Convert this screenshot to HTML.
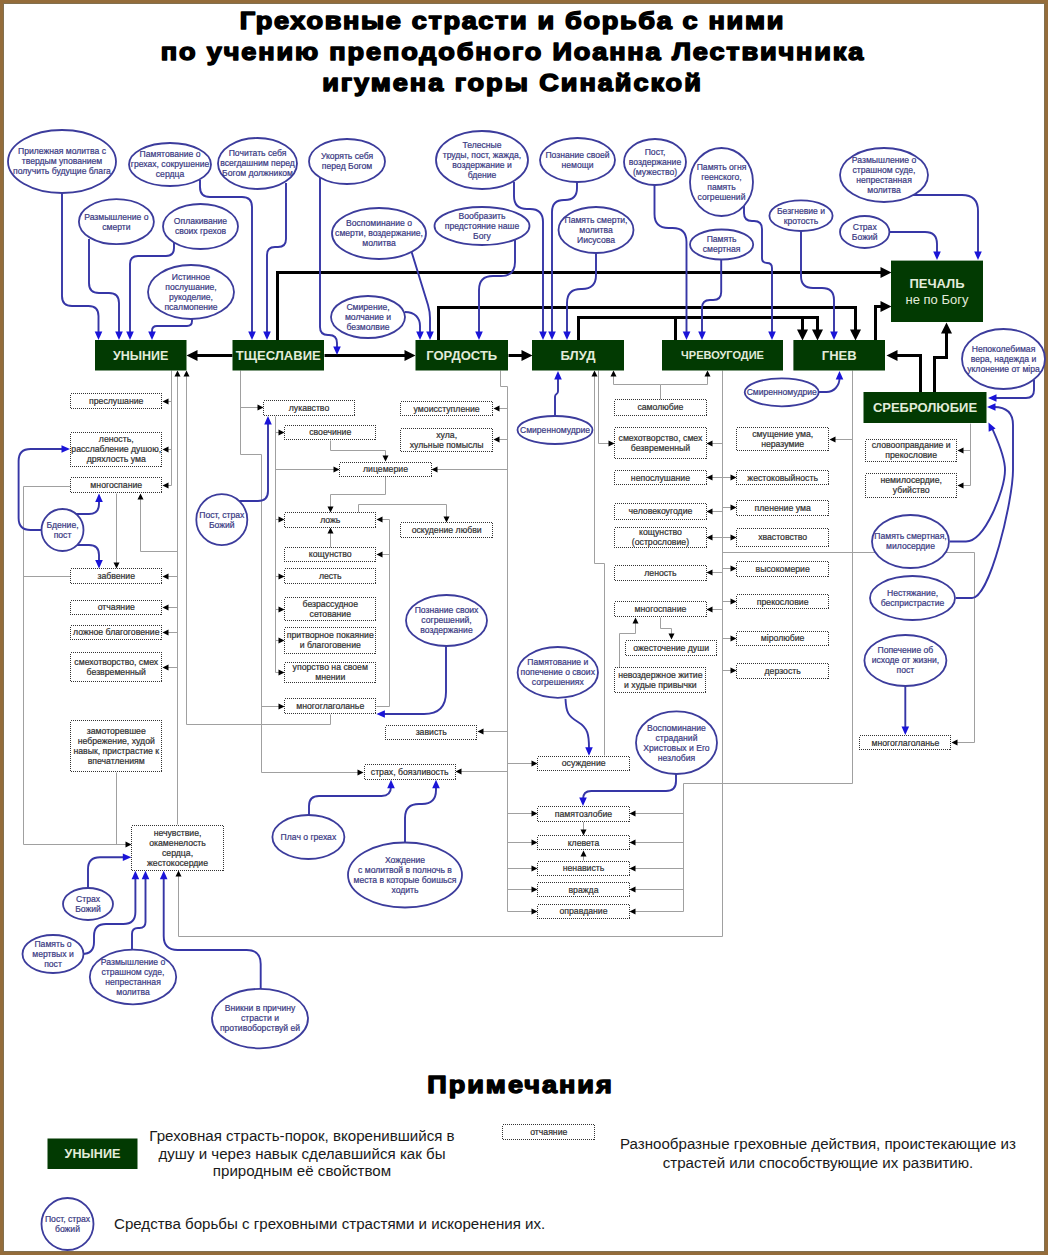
<!DOCTYPE html>
<html><head><meta charset="utf-8"><title>Греховные страсти</title>
<style>html,body{margin:0;padding:0;background:#fff;}svg{display:block;font-family:"Liberation Sans",sans-serif;}</style>
</head><body>
<svg width="1048" height="1255" viewBox="0 0 1048 1255">
<rect x="0" y="0" width="1048" height="1255" fill="#946c3a"/>
<rect x="4" y="4" width="1040" height="1247" fill="#fff"/>
<rect x="3.5" y="3.5" width="1041" height="1248" fill="none" stroke="#82704f" stroke-width="1"/>
<text transform="translate(511.5,0) scale(1.13,1)" x="0" y="28.8" text-anchor="middle" font-size="24" font-weight="bold" textLength="481.06" lengthAdjust="spacing" fill="#000" stroke="#000" stroke-width="1.5" stroke-linejoin="round">Греховные страсти и борьба с ними</text>
<text transform="translate(512.0,0) scale(1.13,1)" x="0" y="59.9" text-anchor="middle" font-size="24" font-weight="bold" textLength="621.77" lengthAdjust="spacing" fill="#000" stroke="#000" stroke-width="1.5" stroke-linejoin="round">по учению преподобного Иоанна Лествичника</text>
<text transform="translate(511.5,0) scale(1.13,1)" x="0" y="90.7" text-anchor="middle" font-size="24" font-weight="bold" textLength="335.04" lengthAdjust="spacing" fill="#000" stroke="#000" stroke-width="1.5" stroke-linejoin="round">игумена горы Синайской</text>
<path d="M171.5,370.5 L171.5,485.5" fill="none" stroke="#a0a0a0" stroke-width="1"/>
<path d="M171.5,401.5 L167.3,401.5" fill="none" stroke="#a0a0a0" stroke-width="1"/><path d="M162.50,401.50 L168.50,398.50 L168.50,404.50 Z" fill="#000"/>
<path d="M171.5,449.5 L167.3,449.5" fill="none" stroke="#a0a0a0" stroke-width="1"/><path d="M162.50,449.50 L168.50,446.50 L168.50,452.50 Z" fill="#000"/>
<path d="M171.5,485.5 L167.3,485.5" fill="none" stroke="#a0a0a0" stroke-width="1"/><path d="M162.50,485.50 L168.50,482.50 L168.50,488.50 Z" fill="#000"/>
<path d="M177.5,824.5 L177.5,375.3" fill="none" stroke="#a0a0a0" stroke-width="1"/><path d="M177.50,370.50 L180.50,376.50 L174.50,376.50 Z" fill="#000"/>
<path d="M177.5,576.5 L167.3,576.5" fill="none" stroke="#a0a0a0" stroke-width="1"/><path d="M162.50,576.50 L168.50,573.50 L168.50,579.50 Z" fill="#000"/>
<path d="M177.5,607.5 L167.3,607.5" fill="none" stroke="#a0a0a0" stroke-width="1"/><path d="M162.50,607.50 L168.50,604.50 L168.50,610.50 Z" fill="#000"/>
<path d="M177.5,632.5 L167.3,632.5" fill="none" stroke="#a0a0a0" stroke-width="1"/><path d="M162.50,632.50 L168.50,629.50 L168.50,635.50 Z" fill="#000"/>
<path d="M177.5,667.5 L167.3,667.5" fill="none" stroke="#a0a0a0" stroke-width="1"/><path d="M162.50,667.50 L168.50,664.50 L168.50,670.50 Z" fill="#000"/>
<path d="M177.5,551.5 L140.5,551.5 L140.5,498.3" fill="none" stroke="#a0a0a0" stroke-width="1"/><path d="M140.50,493.50 L143.50,499.50 L137.50,499.50 Z" fill="#000"/>
<path d="M330.5,714.5 L330.5,724.5 L186.5,724.5 L186.5,375.3" fill="none" stroke="#a0a0a0" stroke-width="1"/><path d="M186.50,370.50 L189.50,376.50 L183.50,376.50 Z" fill="#000"/>
<path d="M70.5,486.5 L23.5,486.5 L23.5,844.5 L126.7,844.5" fill="none" stroke="#a0a0a0" stroke-width="1"/><path d="M131.50,844.50 L125.50,847.50 L125.50,841.50 Z" fill="#000"/>
<path d="M23.5,576.5 L70.5,576.5" fill="none" stroke="#a0a0a0" stroke-width="1"/>
<path d="M116.5,772.5 L116.5,844.5" fill="none" stroke="#a0a0a0" stroke-width="1"/>
<path d="M116.5,493.5 L116.5,563.7" fill="none" stroke="#a0a0a0" stroke-width="1"/><path d="M116.50,568.50 L113.50,562.50 L119.50,562.50 Z" fill="#000"/>
<path d="M240.5,370.5 L240.5,454.5 L261.5,454.5 L261.5,772.5 L358.7,772.5" fill="none" stroke="#a0a0a0" stroke-width="1"/><path d="M363.50,772.50 L357.50,775.50 L357.50,769.50 Z" fill="#000"/>
<path d="M240.5,407.5 L258.7,407.5" fill="none" stroke="#a0a0a0" stroke-width="1"/><path d="M263.50,407.50 L257.50,410.50 L257.50,404.50 Z" fill="#000"/>
<path d="M261.5,706.5 L279.7,706.5" fill="none" stroke="#a0a0a0" stroke-width="1"/><path d="M284.50,706.50 L278.50,709.50 L278.50,703.50 Z" fill="#000"/>
<path d="M275.5,416.5 L275.5,672.5" fill="none" stroke="#a0a0a0" stroke-width="1"/>
<path d="M275.5,432.5 L279.7,432.5" fill="none" stroke="#a0a0a0" stroke-width="1"/><path d="M284.50,432.50 L278.50,435.50 L278.50,429.50 Z" fill="#000"/>
<path d="M275.5,519.5 L279.7,519.5" fill="none" stroke="#a0a0a0" stroke-width="1"/><path d="M284.50,519.50 L278.50,522.50 L278.50,516.50 Z" fill="#000"/>
<path d="M275.5,576.5 L279.7,576.5" fill="none" stroke="#a0a0a0" stroke-width="1"/><path d="M284.50,576.50 L278.50,579.50 L278.50,573.50 Z" fill="#000"/>
<path d="M275.5,609.5 L279.7,609.5" fill="none" stroke="#a0a0a0" stroke-width="1"/><path d="M284.50,609.50 L278.50,612.50 L278.50,606.50 Z" fill="#000"/>
<path d="M275.5,640.5 L279.7,640.5" fill="none" stroke="#a0a0a0" stroke-width="1"/><path d="M284.50,640.50 L278.50,643.50 L278.50,637.50 Z" fill="#000"/>
<path d="M275.5,672.5 L279.7,672.5" fill="none" stroke="#a0a0a0" stroke-width="1"/><path d="M284.50,672.50 L278.50,675.50 L278.50,669.50 Z" fill="#000"/>
<path d="M275.5,469.5 L334.7,469.5" fill="none" stroke="#a0a0a0" stroke-width="1"/><path d="M339.50,469.50 L333.50,472.50 L333.50,466.50 Z" fill="#000"/>
<path d="M330.5,440.5 L330.5,450.5 L385.5,450.5 L385.5,456.7" fill="none" stroke="#a0a0a0" stroke-width="1"/><path d="M385.50,461.50 L382.50,455.50 L388.50,455.50 Z" fill="#000"/>
<path d="M385.5,476.5 L385.5,494.5 L330.5,494.5 L330.5,507.7" fill="none" stroke="#a0a0a0" stroke-width="1"/><path d="M330.50,512.50 L327.50,506.50 L333.50,506.50 Z" fill="#000"/>
<path d="M330.5,547.5 L330.5,532.3" fill="none" stroke="#a0a0a0" stroke-width="1"/><path d="M330.50,527.50 L333.50,533.50 L327.50,533.50 Z" fill="#000"/>
<path d="M376.5,706.5 L389.5,706.5 L389.5,519.5" fill="none" stroke="#a0a0a0" stroke-width="1"/>
<path d="M389.5,519.5 L381.3,519.5" fill="none" stroke="#a0a0a0" stroke-width="1"/><path d="M376.50,519.50 L382.50,516.50 L382.50,522.50 Z" fill="#000"/>
<path d="M389.5,554.5 L381.3,554.5" fill="none" stroke="#a0a0a0" stroke-width="1"/><path d="M376.50,554.50 L382.50,551.50 L382.50,557.50 Z" fill="#000"/>
<path d="M358.5,512.5 L358.5,504.5 L446.5,504.5 L446.5,517.7" fill="none" stroke="#a0a0a0" stroke-width="1"/><path d="M446.50,522.50 L443.50,516.50 L449.50,516.50 Z" fill="#000"/>
<path d="M500.5,370.5 L500.5,386.5 L507.5,386.5 L507.5,911.5" fill="none" stroke="#a0a0a0" stroke-width="1"/>
<path d="M507.5,408.5 L498.3,408.5" fill="none" stroke="#a0a0a0" stroke-width="1"/><path d="M493.50,408.50 L499.50,405.50 L499.50,411.50 Z" fill="#000"/>
<path d="M507.5,439.5 L498.3,439.5" fill="none" stroke="#a0a0a0" stroke-width="1"/><path d="M493.50,439.50 L499.50,436.50 L499.50,442.50 Z" fill="#000"/>
<path d="M507.5,469.5 L436.3,469.5" fill="none" stroke="#a0a0a0" stroke-width="1"/><path d="M431.50,469.50 L437.50,466.50 L437.50,472.50 Z" fill="#000"/>
<path d="M507.5,731.5 L482.3,731.5" fill="none" stroke="#a0a0a0" stroke-width="1"/><path d="M477.50,731.50 L483.50,728.50 L483.50,734.50 Z" fill="#000"/>
<path d="M507.5,771.5 L460.3,771.5" fill="none" stroke="#a0a0a0" stroke-width="1"/><path d="M455.50,771.50 L461.50,768.50 L461.50,774.50 Z" fill="#000"/>
<path d="M507.5,763.5 L532.7,763.5" fill="none" stroke="#a0a0a0" stroke-width="1"/><path d="M537.50,763.50 L531.50,766.50 L531.50,760.50 Z" fill="#000"/>
<path d="M507.5,813.5 L532.7,813.5" fill="none" stroke="#a0a0a0" stroke-width="1"/><path d="M537.50,813.50 L531.50,816.50 L531.50,810.50 Z" fill="#000"/>
<path d="M507.5,842.5 L532.7,842.5" fill="none" stroke="#a0a0a0" stroke-width="1"/><path d="M537.50,842.50 L531.50,845.50 L531.50,839.50 Z" fill="#000"/>
<path d="M507.5,868.5 L532.7,868.5" fill="none" stroke="#a0a0a0" stroke-width="1"/><path d="M537.50,868.50 L531.50,871.50 L531.50,865.50 Z" fill="#000"/>
<path d="M507.5,889.5 L532.7,889.5" fill="none" stroke="#a0a0a0" stroke-width="1"/><path d="M537.50,889.50 L531.50,892.50 L531.50,886.50 Z" fill="#000"/>
<path d="M507.5,911.5 L532.7,911.5" fill="none" stroke="#a0a0a0" stroke-width="1"/><path d="M537.50,911.50 L531.50,914.50 L531.50,908.50 Z" fill="#000"/>
<path d="M604.5,755.5 L604.5,563.5 L594.5,563.5 L594.5,375.3" fill="none" stroke="#a0a0a0" stroke-width="1"/><path d="M594.50,370.50 L597.50,376.50 L591.50,376.50 Z" fill="#000"/>
<path d="M598.5,370.5 L598.5,443.5 L609.7,443.5" fill="none" stroke="#a0a0a0" stroke-width="1"/><path d="M614.50,443.50 L608.50,446.50 L608.50,440.50 Z" fill="#000"/>
<path d="M660.5,399.5 L660.5,384.5" fill="none" stroke="#a0a0a0" stroke-width="1"/>
<path d="M660.5,384.5 L613.5,384.5 L613.5,375.3" fill="none" stroke="#a0a0a0" stroke-width="1"/><path d="M613.50,370.50 L616.50,376.50 L610.50,376.50 Z" fill="#000"/>
<path d="M660.5,384.5 L707.5,384.5 L707.5,375.3" fill="none" stroke="#a0a0a0" stroke-width="1"/><path d="M707.50,370.50 L710.50,376.50 L704.50,376.50 Z" fill="#000"/>
<path d="M722.5,370.5 L722.5,936.5 L178.5,936.5 L178.5,875.3" fill="none" stroke="#a0a0a0" stroke-width="1"/><path d="M178.50,870.50 L181.50,876.50 L175.50,876.50 Z" fill="#000"/>
<path d="M722.5,443.5 L711.3,443.5" fill="none" stroke="#a0a0a0" stroke-width="1"/><path d="M706.50,443.50 L712.50,440.50 L712.50,446.50 Z" fill="#000"/>
<path d="M722.5,477.5 L711.3,477.5" fill="none" stroke="#a0a0a0" stroke-width="1"/><path d="M706.50,477.50 L712.50,474.50 L712.50,480.50 Z" fill="#000"/>
<path d="M722.5,511.5 L711.3,511.5" fill="none" stroke="#a0a0a0" stroke-width="1"/><path d="M706.50,511.50 L712.50,508.50 L712.50,514.50 Z" fill="#000"/>
<path d="M722.5,537.5 L711.3,537.5" fill="none" stroke="#a0a0a0" stroke-width="1"/><path d="M706.50,537.50 L712.50,534.50 L712.50,540.50 Z" fill="#000"/>
<path d="M722.5,572.5 L711.3,572.5" fill="none" stroke="#a0a0a0" stroke-width="1"/><path d="M706.50,572.50 L712.50,569.50 L712.50,575.50 Z" fill="#000"/>
<path d="M722.5,609.5 L711.3,609.5" fill="none" stroke="#a0a0a0" stroke-width="1"/><path d="M706.50,609.50 L712.50,606.50 L712.50,612.50 Z" fill="#000"/>
<path d="M722.5,477.5 L731.7,477.5" fill="none" stroke="#a0a0a0" stroke-width="1"/><path d="M736.50,477.50 L730.50,480.50 L730.50,474.50 Z" fill="#000"/>
<path d="M722.5,507.5 L731.7,507.5" fill="none" stroke="#a0a0a0" stroke-width="1"/><path d="M736.50,507.50 L730.50,510.50 L730.50,504.50 Z" fill="#000"/>
<path d="M722.5,537.5 L731.7,537.5" fill="none" stroke="#a0a0a0" stroke-width="1"/><path d="M736.50,537.50 L730.50,540.50 L730.50,534.50 Z" fill="#000"/>
<path d="M722.5,568.5 L731.7,568.5" fill="none" stroke="#a0a0a0" stroke-width="1"/><path d="M736.50,568.50 L730.50,571.50 L730.50,565.50 Z" fill="#000"/>
<path d="M722.5,601.5 L731.7,601.5" fill="none" stroke="#a0a0a0" stroke-width="1"/><path d="M736.50,601.50 L730.50,604.50 L730.50,598.50 Z" fill="#000"/>
<path d="M722.5,638.5 L731.7,638.5" fill="none" stroke="#a0a0a0" stroke-width="1"/><path d="M736.50,638.50 L730.50,641.50 L730.50,635.50 Z" fill="#000"/>
<path d="M722.5,670.5 L731.7,670.5" fill="none" stroke="#a0a0a0" stroke-width="1"/><path d="M736.50,670.50 L730.50,673.50 L730.50,667.50 Z" fill="#000"/>
<path d="M722.5,552.5 L974.5,552.5 L974.5,742.5 L956.3,742.5" fill="none" stroke="#a0a0a0" stroke-width="1"/><path d="M951.50,742.50 L957.50,739.50 L957.50,745.50 Z" fill="#000"/>
<path d="M660.5,617.5 L660.5,628.5 L671.5,628.5 L671.5,634.7" fill="none" stroke="#a0a0a0" stroke-width="1"/><path d="M671.50,639.50 L668.50,633.50 L674.50,633.50 Z" fill="#000"/>
<path d="M619.5,667.5 L619.5,633.5 L635.5,633.5 L635.5,622.3" fill="none" stroke="#a0a0a0" stroke-width="1"/><path d="M635.50,617.50 L638.50,623.50 L632.50,623.50 Z" fill="#000"/>
<path d="M852.5,370.5 L852.5,783.5 L683.5,783.5 L683.5,911.5" fill="none" stroke="#a0a0a0" stroke-width="1"/>
<path d="M852.5,439.5 L834.3,439.5" fill="none" stroke="#a0a0a0" stroke-width="1"/><path d="M829.50,439.50 L835.50,436.50 L835.50,442.50 Z" fill="#000"/>
<path d="M683.5,813.5 L634.3,813.5" fill="none" stroke="#a0a0a0" stroke-width="1"/><path d="M629.50,813.50 L635.50,810.50 L635.50,816.50 Z" fill="#000"/>
<path d="M683.5,842.5 L634.3,842.5" fill="none" stroke="#a0a0a0" stroke-width="1"/><path d="M629.50,842.50 L635.50,839.50 L635.50,845.50 Z" fill="#000"/>
<path d="M683.5,868.5 L634.3,868.5" fill="none" stroke="#a0a0a0" stroke-width="1"/><path d="M629.50,868.50 L635.50,865.50 L635.50,871.50 Z" fill="#000"/>
<path d="M683.5,889.5 L634.3,889.5" fill="none" stroke="#a0a0a0" stroke-width="1"/><path d="M629.50,889.50 L635.50,886.50 L635.50,892.50 Z" fill="#000"/>
<path d="M683.5,911.5 L634.3,911.5" fill="none" stroke="#a0a0a0" stroke-width="1"/><path d="M629.50,911.50 L635.50,908.50 L635.50,914.50 Z" fill="#000"/>
<path d="M583.5,821.5 L583.5,830.7" fill="none" stroke="#a0a0a0" stroke-width="1"/><path d="M583.50,835.50 L580.50,829.50 L586.50,829.50 Z" fill="#000"/>
<path d="M583.5,860.5 L583.5,855.3" fill="none" stroke="#a0a0a0" stroke-width="1"/><path d="M583.50,850.50 L586.50,856.50 L580.50,856.50 Z" fill="#000"/>
<path d="M970.5,423.5 L970.5,485.5" fill="none" stroke="#a0a0a0" stroke-width="1"/>
<path d="M970.5,450.5 L962.3,450.5" fill="none" stroke="#a0a0a0" stroke-width="1"/><path d="M957.50,450.50 L963.50,447.50 L963.50,453.50 Z" fill="#000"/>
<path d="M970.5,485.5 L962.3,485.5" fill="none" stroke="#a0a0a0" stroke-width="1"/><path d="M957.50,485.50 L963.50,482.50 L963.50,488.50 Z" fill="#000"/>
<path d="M232.5,355.5 L195.3,355.5" fill="none" stroke="#000" stroke-width="3"/><path d="M186.50,355.50 L197.50,350.00 L197.50,361.00 Z" fill="#000"/>
<path d="M324.5,355.5 L406.7,355.5" fill="none" stroke="#000" stroke-width="3"/><path d="M415.50,355.50 L404.50,361.00 L404.50,350.00 Z" fill="#000"/>
<path d="M508.5,355.5 L523.7,355.5" fill="none" stroke="#000" stroke-width="3"/><path d="M532.50,355.50 L521.50,361.00 L521.50,350.00 Z" fill="#000"/>
<path d="M277.5,340.5 L277.5,272.5 L882.7,272.5" fill="none" stroke="#000" stroke-width="3"/><path d="M891.50,272.50 L880.50,278.00 L880.50,267.00 Z" fill="#000"/>
<path d="M438.5,340.5 L438.5,307.5 L855.5,307.5 L855.5,331.7" fill="none" stroke="#000" stroke-width="3"/><path d="M855.50,340.50 L850.00,329.50 L861.00,329.50 Z" fill="#000"/>
<path d="M578.5,340.5 L578.5,317.5 L817.5,317.5 L817.5,331.7" fill="none" stroke="#000" stroke-width="3"/><path d="M817.50,340.50 L812.00,329.50 L823.00,329.50 Z" fill="#000"/>
<path d="M675.5,340.5 L675.5,317.5" fill="none" stroke="#000" stroke-width="3"/>
<path d="M802.5,317.5 L802.5,331.7" fill="none" stroke="#000" stroke-width="3"/><path d="M802.50,340.50 L797.00,329.50 L808.00,329.50 Z" fill="#000"/>
<path d="M875.5,340.5 L875.5,306.5 L882.7,306.5" fill="none" stroke="#000" stroke-width="3"/><path d="M891.50,306.50 L880.50,312.00 L880.50,301.00 Z" fill="#000"/>
<path d="M920.5,392.5 L920.5,355.5 L895.3,355.5" fill="none" stroke="#000" stroke-width="3"/><path d="M886.50,355.50 L897.50,350.00 L897.50,361.00 Z" fill="#000"/>
<path d="M934.5,392.5 L934.5,357.5 L946.5,357.5 L946.5,331.3" fill="none" stroke="#000" stroke-width="3"/><path d="M946.50,322.50 L952.00,333.50 L941.00,333.50 Z" fill="#000"/>
<path d="M62.0,188.0 L62.00,296.00 Q62,306 72.00,306.00 L88.50,306.00 Q98.5,306 98.50,316.00 L98.5,333.2" fill="none" stroke="#3636a6" stroke-width="1.9"/><path d="M98.50,340.00 L94.70,331.50 L102.30,331.50 Z" fill="#1a14d8"/>
<path d="M89.0,239.0 L89.00,283.00 Q89,293 99.00,293.00 L109.00,293.00 Q119,293 119.00,303.00 L119.0,333.2" fill="none" stroke="#3636a6" stroke-width="1.9"/><path d="M119.00,340.00 L115.20,331.50 L122.80,331.50 Z" fill="#1a14d8"/>
<path d="M174.0,243.0 L174.00,248.00 Q174,256 166.00,256.00 L138.00,256.00 Q130,256 130.00,264.00 L130.0,333.2" fill="none" stroke="#3636a6" stroke-width="1.9"/><path d="M130.00,340.00 L126.20,331.50 L133.80,331.50 Z" fill="#1a14d8"/>
<path d="M192.0,313.0 L192.00,321.00 Q192,326 187.00,326.00 L157.00,326.00 Q152,326 152.00,331.00 L152.0,333.2" fill="none" stroke="#3636a6" stroke-width="1.9"/><path d="M152.00,340.00 L148.20,331.50 L155.80,331.50 Z" fill="#1a14d8"/>
<path d="M200.0,180.0 L200.00,187.00 Q200,197 210.00,197.00 L242.00,197.00 Q252,197 252.00,207.00 L252.0,333.2" fill="none" stroke="#3636a6" stroke-width="1.9"/><path d="M252.00,340.00 L248.20,331.50 L255.80,331.50 Z" fill="#1a14d8"/>
<path d="M286.0,183.0 L286.00,239.00 Q286,247 278.00,247.00 L275.00,247.00 Q267,247 267.00,255.00 L267.0,333.2" fill="none" stroke="#3636a6" stroke-width="1.9"/><path d="M267.00,340.00 L263.20,331.50 L270.80,331.50 Z" fill="#1a14d8"/>
<path d="M320.0,178.0 L320.00,327.00 Q320,335 328.00,335.00 L329.00,335.00 Q337,335 337.00,343.00 L337.0,348.2" fill="none" stroke="#3636a6" stroke-width="1.9"/><path d="M337.00,355.00 L333.20,346.50 L340.80,346.50 Z" fill="#1a14d8"/>
<path d="M514.0,182.0 L514.00,196.00 Q514,209 527.00,209.00 L530.00,209.00 Q543,209 543.00,222.00 L543.0,333.2" fill="none" stroke="#3636a6" stroke-width="1.9"/><path d="M543.00,340.00 L539.20,331.50 L546.80,331.50 Z" fill="#1a14d8"/>
<path d="M577.0,177.0 L577.00,188.00 Q577,200 565.00,200.00 L564.00,200.00 Q552,200 552.00,212.00 L552.0,333.2" fill="none" stroke="#3636a6" stroke-width="1.9"/><path d="M552.00,340.00 L548.20,331.50 L555.80,331.50 Z" fill="#1a14d8"/>
<path d="M411,250 L428,305 Q430,312 430,318 L430,332" fill="none" stroke="#3636a6" stroke-width="1.9"/><path d="M430.00,340.00 L426.20,331.50 L433.80,331.50 Z" fill="#1a14d8"/>
<path d="M515.0,237.0 L515.00,262.00 Q515,276 501.00,276.00 L493.00,276.00 Q479,276 479.00,290.00 L479.0,333.2" fill="none" stroke="#3636a6" stroke-width="1.9"/><path d="M479.00,340.00 L475.20,331.50 L482.80,331.50 Z" fill="#1a14d8"/>
<path d="M596.0,248.0 L596.00,275.00 Q596,289 582.00,289.00 L581.00,289.00 Q567,289 567.00,303.00 L567.0,333.2" fill="none" stroke="#3636a6" stroke-width="1.9"/><path d="M567.00,340.00 L563.20,331.50 L570.80,331.50 Z" fill="#1a14d8"/>
<path d="M405,312 C415,312 420,318 420,326 L420,332" fill="none" stroke="#3636a6" stroke-width="1.9"/><path d="M420.00,340.00 L416.20,331.50 L423.80,331.50 Z" fill="#1a14d8"/>
<path d="M654.5,180.0 L654.50,214.00 Q654.5,228 668.50,228.00 L672.50,228.00 Q686.5,228 686.50,242.00 L686.5,333.2" fill="none" stroke="#3636a6" stroke-width="1.9"/><path d="M686.50,340.00 L682.70,331.50 L690.30,331.50 Z" fill="#1a14d8"/>
<path d="M744.0,200.0 L744.00,213.00 Q744,221 752.00,221.00 L754.00,221.00 Q762,221 762.00,229.00 L762.00,258.00 Q762,263 767.00,263.00 L767.00,263.00 Q772,263 772.00,268.00 L772.0,333.2" fill="none" stroke="#3636a6" stroke-width="1.9"/><path d="M772.00,340.00 L768.20,331.50 L775.80,331.50 Z" fill="#1a14d8"/>
<path d="M721.2,254.0 L721.20,292.00 Q721.2,300 713.20,300.00 L710.00,300.00 Q702,300 702.00,308.00 L702.0,333.2" fill="none" stroke="#3636a6" stroke-width="1.9"/><path d="M702.00,340.00 L698.20,331.50 L705.80,331.50 Z" fill="#1a14d8"/>
<path d="M801.0,226.0 L801.00,276.00 Q801,288 813.00,288.00 L822.00,288.00 Q834,288 834.00,300.00 L834.0,333.2" fill="none" stroke="#3636a6" stroke-width="1.9"/><path d="M834.00,340.00 L830.20,331.50 L837.80,331.50 Z" fill="#1a14d8"/>
<path d="M910.0,195.0 L962.00,195.00 Q978,195 978.00,211.00 L978.0,253.2" fill="none" stroke="#3636a6" stroke-width="1.9"/><path d="M978.00,260.00 L974.20,251.50 L981.80,251.50 Z" fill="#1a14d8"/>
<path d="M884.0,232.0 L925.00,232.00 Q937,232 937.00,244.00 L937.0,253.2" fill="none" stroke="#3636a6" stroke-width="1.9"/><path d="M937.00,260.00 L933.20,251.50 L940.80,251.50 Z" fill="#1a14d8"/>
<path d="M1034.0,380.0 L1034.00,390.00 Q1034,398 1026.00,398.00 L994.8,398.0" fill="none" stroke="#3636a6" stroke-width="1.9"/><path d="M988.00,398.00 L996.50,394.20 L996.50,401.80 Z" fill="#1a14d8"/>
<path d="M956,598 L972,598 C990,598 1013,500 1013,470 L1013,425 C1013,412 1005,407 994,407" fill="none" stroke="#3636a6" stroke-width="1.9"/><path d="M987.00,407.00 L995.50,403.20 L995.50,410.80 Z" fill="#1a14d8"/>
<path d="M950,541.5 L966,541.5 C985,541.5 1005,490 1005,470 C1005,455 995,435 992,428" fill="none" stroke="#3636a6" stroke-width="1.9"/><path d="M988.50,422.50 L995.57,428.56 L988.70,431.81 Z" fill="#1a14d8"/>
<path d="M555.0,421.0 L555.00,396.80 Q555,395 556.50,394.00 L556.50,394.00 Q558,393 558.00,391.20 L558.0,377.8" fill="none" stroke="#3636a6" stroke-width="1.9"/><path d="M558.00,371.00 L561.80,379.50 L554.20,379.50 Z" fill="#1a14d8"/>
<path d="M813.5,392.0 L826.52,392.00 Q832,392 835.75,388.00 L835.75,388.00 Q839.5,384 839.50,378.52 L839.5,377.8" fill="none" stroke="#3636a6" stroke-width="1.9"/><path d="M839.50,371.00 L843.30,379.50 L835.70,379.50 Z" fill="#1a14d8"/>
<path d="M47.0,530.0 L30.60,530.00 Q18.6,530 18.60,518.00 L18.60,461.00 Q18.6,449 30.60,449.00 L63.199999999999996,449.0" fill="none" stroke="#3636a6" stroke-width="1.9"/><path d="M70.00,449.00 L61.50,452.80 L61.50,445.20 Z" fill="#1a14d8"/>
<path d="M72.0,514.0 L89.00,514.00 Q99,514 99.00,504.00 L99.0,500.3" fill="none" stroke="#3636a6" stroke-width="1.9"/><path d="M99.00,493.50 L102.80,502.00 L95.20,502.00 Z" fill="#1a14d8"/>
<path d="M72.0,545.0 L89.00,545.00 Q99,545 99.00,555.00 L99.0,561.6" fill="none" stroke="#3636a6" stroke-width="1.9"/><path d="M99.00,568.40 L95.20,559.90 L102.80,559.90 Z" fill="#1a14d8"/>
<path d="M236.0,501.0 L258.00,501.00 Q268,501 268.00,491.00 L268.0,422.8" fill="none" stroke="#3636a6" stroke-width="1.9"/><path d="M268.00,416.00 L271.80,424.50 L264.20,424.50 Z" fill="#1a14d8"/>
<path d="M446.0,641.0 L446.00,692.00 Q446,714 424.00,714.00 L383.2,714.0" fill="none" stroke="#3636a6" stroke-width="1.9"/><path d="M376.40,714.00 L384.90,710.20 L384.90,717.80 Z" fill="#1a14d8"/>
<path d="M565.5,698.8 C566,712 568,716 578,722 C588,728 589,735 589,748" fill="none" stroke="#3636a6" stroke-width="1.9"/><path d="M589.00,755.80 L585.20,747.30 L592.80,747.30 Z" fill="#1a14d8"/>
<path d="M676.0,769.0 L676.00,781.00 Q676,791 666.00,791.00 L591.20,791.00 Q583,791 583.00,799.20 L583.0,799.2" fill="none" stroke="#3636a6" stroke-width="1.9"/><path d="M583.00,806.00 L579.20,797.50 L586.80,797.50 Z" fill="#1a14d8"/>
<path d="M905.3,681.0 L905.3,728.2" fill="none" stroke="#3636a6" stroke-width="1.9"/><path d="M905.30,735.00 L901.50,726.50 L909.10,726.50 Z" fill="#1a14d8"/>
<path d="M309.0,819.5 L309.00,806.00 Q309,796 319.00,796.00 L381.60,796.00 Q391,796 391.00,786.60 L391.0,786.5999999999999" fill="none" stroke="#3636a6" stroke-width="1.9"/><path d="M391.00,779.80 L394.80,788.30 L387.20,788.30 Z" fill="#1a14d8"/>
<path d="M405.0,848.0 L405.00,818.00 Q405,804 419.00,804.00 L422.00,804.00 Q436,804 436.00,790.00 L436.0,786.5999999999999" fill="none" stroke="#3636a6" stroke-width="1.9"/><path d="M436.00,779.80 L439.80,788.30 L432.20,788.30 Z" fill="#1a14d8"/>
<path d="M88.0,893.0 L88.00,869.30 Q88,857.3 100.00,857.30 L124.50000000000001,857.3" fill="none" stroke="#3636a6" stroke-width="1.9"/><path d="M131.30,857.30 L122.80,861.10 L122.80,853.50 Z" fill="#1a14d8"/>
<path d="M78.4,954.0 L82.00,954.00 Q94,954 94.00,942.00 L94.00,936.00 Q94,924 106.00,924.00 L123.40,924.00 Q135.4,924 135.40,912.00 L135.4,877.5999999999999" fill="none" stroke="#3636a6" stroke-width="1.9"/><path d="M135.40,870.80 L139.20,879.30 L131.60,879.30 Z" fill="#1a14d8"/>
<path d="M132.0,955.0 L132.00,934.00 Q132,928 138.00,928.00 L139.50,928.00 Q145.5,928 145.50,922.00 L145.5,877.5999999999999" fill="none" stroke="#3636a6" stroke-width="1.9"/><path d="M145.50,870.80 L149.30,879.30 L141.70,879.30 Z" fill="#1a14d8"/>
<path d="M260.7,994.0 L260.70,964.00 Q260.7,950 246.70,950.00 L177.70,950.00 Q163.7,950 163.70,936.00 L163.7,877.5999999999999" fill="none" stroke="#3636a6" stroke-width="1.9"/><path d="M163.70,870.80 L167.50,879.30 L159.90,879.30 Z" fill="#1a14d8"/>
<rect x="95" y="340" width="91.5" height="30.5" fill="#023a02"/>
<text x="140.75" y="359.75" text-anchor="middle" font-size="12.5" font-weight="bold" fill="#e2ecda">УНЫНИЕ</text>
<rect x="232.5" y="340" width="91.5" height="30.5" fill="#023a02"/>
<text x="278.25" y="359.93" text-anchor="middle" font-size="13" font-weight="bold" fill="#e2ecda">ТЩЕСЛАВИЕ</text>
<rect x="415.5" y="340" width="92.5" height="30.5" fill="#023a02"/>
<text x="461.75" y="359.93" text-anchor="middle" font-size="13" font-weight="bold" fill="#e2ecda">ГОРДОСТЬ</text>
<rect x="532" y="340" width="92" height="30.5" fill="#023a02"/>
<text x="578.0" y="359.93" text-anchor="middle" font-size="13" font-weight="bold" fill="#e2ecda">БЛУД</text>
<rect x="662" y="340" width="121" height="30.5" fill="#023a02"/>
<text x="722.5" y="359.21" text-anchor="middle" font-size="11" font-weight="bold" fill="#e2ecda">ЧРЕВОУГОДИЕ</text>
<rect x="793.4" y="340" width="91.6" height="30.5" fill="#023a02"/>
<text x="839.1999999999999" y="359.93" text-anchor="middle" font-size="13" font-weight="bold" fill="#e2ecda">ГНЕВ</text>
<rect x="891" y="260.6" width="92" height="61.4" fill="#023a02"/>
<text x="937.0" y="287.98" text-anchor="middle" font-size="13" font-weight="bold" fill="#e2ecda">ПЕЧАЛЬ</text>
<text x="937.0" y="303.98" text-anchor="middle" font-size="13" font-weight="normal" fill="#e2ecda">не по Богу</text>
<rect x="863.5" y="392" width="123" height="31" fill="#023a02"/>
<text x="925.0" y="412.18" text-anchor="middle" font-size="13" font-weight="bold" fill="#e2ecda">СРЕБРОЛЮБИЕ</text>
<rect x="47.5" y="1138.5" width="90" height="30.5" fill="#023a02"/>
<text x="92.5" y="1158.286" text-anchor="middle" font-size="12.6" font-weight="bold" fill="#e2ecda">УНЫНИЕ</text>
<rect x="70.5" y="393.5" width="91" height="15" fill="#fff" stroke="#333" stroke-width="1" stroke-dasharray="1,1" shape-rendering="crispEdges"/>
<text x="116.25" y="403.87" text-anchor="middle" font-size="8.7" fill="#2e2e2e" stroke="#2e2e2e" stroke-width="0.2">преслушание</text>
<rect x="70.5" y="432.5" width="91" height="34" fill="#fff" stroke="#333" stroke-width="1" stroke-dasharray="1,1" shape-rendering="crispEdges"/>
<text x="116.25" y="442.37" text-anchor="middle" font-size="8.7" fill="#2e2e2e" stroke="#2e2e2e" stroke-width="0.2">леность,</text>
<text x="116.25" y="452.37" text-anchor="middle" font-size="8.7" fill="#2e2e2e" stroke="#2e2e2e" stroke-width="0.2">расслабление душою,</text>
<text x="116.25" y="462.37" text-anchor="middle" font-size="8.7" fill="#2e2e2e" stroke="#2e2e2e" stroke-width="0.2">дряхлость ума</text>
<rect x="70.5" y="477.5" width="91" height="15" fill="#fff" stroke="#333" stroke-width="1" stroke-dasharray="1,1" shape-rendering="crispEdges"/>
<text x="116.25" y="487.87" text-anchor="middle" font-size="8.7" fill="#2e2e2e" stroke="#2e2e2e" stroke-width="0.2">многоспание</text>
<rect x="70.5" y="568.5" width="91" height="15" fill="#fff" stroke="#333" stroke-width="1" stroke-dasharray="1,1" shape-rendering="crispEdges"/>
<text x="116.25" y="579.07" text-anchor="middle" font-size="8.7" fill="#2e2e2e" stroke="#2e2e2e" stroke-width="0.2">забвение</text>
<rect x="70.5" y="600.5" width="91" height="14" fill="#fff" stroke="#333" stroke-width="1" stroke-dasharray="1,1" shape-rendering="crispEdges"/>
<text x="116.25" y="610.12" text-anchor="middle" font-size="8.7" fill="#2e2e2e" stroke="#2e2e2e" stroke-width="0.2">отчаяние</text>
<rect x="70.5" y="625.5" width="91" height="14" fill="#fff" stroke="#333" stroke-width="1" stroke-dasharray="1,1" shape-rendering="crispEdges"/>
<text x="116.25" y="635.47" text-anchor="middle" font-size="8.7" fill="#2e2e2e" stroke="#2e2e2e" stroke-width="0.2">ложное благоговение</text>
<rect x="70.5" y="652.5" width="91" height="29" fill="#fff" stroke="#333" stroke-width="1" stroke-dasharray="1,1" shape-rendering="crispEdges"/>
<text x="116.25" y="664.87" text-anchor="middle" font-size="8.7" fill="#2e2e2e" stroke="#2e2e2e" stroke-width="0.2">смехотворство, смех</text>
<text x="116.25" y="674.87" text-anchor="middle" font-size="8.7" fill="#2e2e2e" stroke="#2e2e2e" stroke-width="0.2">безвременный</text>
<rect x="70.5" y="720.5" width="91" height="51" fill="#fff" stroke="#333" stroke-width="1" stroke-dasharray="1,1" shape-rendering="crispEdges"/>
<text x="116.25" y="734.27" text-anchor="middle" font-size="8.7" fill="#2e2e2e" stroke="#2e2e2e" stroke-width="0.2">замоторевшее</text>
<text x="116.25" y="744.27" text-anchor="middle" font-size="8.7" fill="#2e2e2e" stroke="#2e2e2e" stroke-width="0.2">небрежение, худой</text>
<text x="116.25" y="754.27" text-anchor="middle" font-size="8.7" fill="#2e2e2e" stroke="#2e2e2e" stroke-width="0.2">навык, пристрастие к</text>
<text x="116.25" y="764.27" text-anchor="middle" font-size="8.7" fill="#2e2e2e" stroke="#2e2e2e" stroke-width="0.2">впечатлениям</text>
<rect x="131.5" y="825.5" width="92" height="45" fill="#fff" stroke="#333" stroke-width="1" stroke-dasharray="1,1" shape-rendering="crispEdges"/>
<text x="177.55" y="835.57" text-anchor="middle" font-size="8.7" fill="#2e2e2e" stroke="#2e2e2e" stroke-width="0.2">нечувствие,</text>
<text x="177.55" y="845.57" text-anchor="middle" font-size="8.7" fill="#2e2e2e" stroke="#2e2e2e" stroke-width="0.2">окаменелость</text>
<text x="177.55" y="855.57" text-anchor="middle" font-size="8.7" fill="#2e2e2e" stroke="#2e2e2e" stroke-width="0.2">сердца,</text>
<text x="177.55" y="865.57" text-anchor="middle" font-size="8.7" fill="#2e2e2e" stroke="#2e2e2e" stroke-width="0.2">жестокосердие</text>
<rect x="263.5" y="400.5" width="91" height="15" fill="#fff" stroke="#333" stroke-width="1" stroke-dasharray="1,1" shape-rendering="crispEdges"/>
<text x="309.0" y="411.07" text-anchor="middle" font-size="8.7" fill="#2e2e2e" stroke="#2e2e2e" stroke-width="0.2">лукавство</text>
<rect x="284.5" y="425.5" width="91" height="14" fill="#fff" stroke="#333" stroke-width="1" stroke-dasharray="1,1" shape-rendering="crispEdges"/>
<text x="330.25" y="435.37" text-anchor="middle" font-size="8.7" fill="#2e2e2e" stroke="#2e2e2e" stroke-width="0.2">своечиние</text>
<rect x="339.5" y="462.5" width="92" height="14" fill="#fff" stroke="#333" stroke-width="1" stroke-dasharray="1,1" shape-rendering="crispEdges"/>
<text x="385.5" y="472.07" text-anchor="middle" font-size="8.7" fill="#2e2e2e" stroke="#2e2e2e" stroke-width="0.2">лицемерие</text>
<rect x="284.5" y="512.5" width="91" height="15" fill="#fff" stroke="#333" stroke-width="1" stroke-dasharray="1,1" shape-rendering="crispEdges"/>
<text x="330.25" y="522.62" text-anchor="middle" font-size="8.7" fill="#2e2e2e" stroke="#2e2e2e" stroke-width="0.2">ложь</text>
<rect x="284.5" y="547.5" width="91" height="14" fill="#fff" stroke="#333" stroke-width="1" stroke-dasharray="1,1" shape-rendering="crispEdges"/>
<text x="330.25" y="557.37" text-anchor="middle" font-size="8.7" fill="#2e2e2e" stroke="#2e2e2e" stroke-width="0.2">кощунство</text>
<rect x="284.5" y="568.5" width="91" height="15" fill="#fff" stroke="#333" stroke-width="1" stroke-dasharray="1,1" shape-rendering="crispEdges"/>
<text x="330.25" y="578.87" text-anchor="middle" font-size="8.7" fill="#2e2e2e" stroke="#2e2e2e" stroke-width="0.2">лесть</text>
<rect x="284.5" y="597.5" width="91" height="23" fill="#fff" stroke="#333" stroke-width="1" stroke-dasharray="1,1" shape-rendering="crispEdges"/>
<text x="330.25" y="607.07" text-anchor="middle" font-size="8.7" fill="#2e2e2e" stroke="#2e2e2e" stroke-width="0.2">безрассудное</text>
<text x="330.25" y="617.07" text-anchor="middle" font-size="8.7" fill="#2e2e2e" stroke="#2e2e2e" stroke-width="0.2">сетование</text>
<rect x="284.5" y="627.5" width="91" height="26" fill="#fff" stroke="#333" stroke-width="1" stroke-dasharray="1,1" shape-rendering="crispEdges"/>
<text x="330.25" y="638.47" text-anchor="middle" font-size="8.7" fill="#2e2e2e" stroke="#2e2e2e" stroke-width="0.2">притворное покаяние</text>
<text x="330.25" y="648.47" text-anchor="middle" font-size="8.7" fill="#2e2e2e" stroke="#2e2e2e" stroke-width="0.2">и благоговение</text>
<rect x="284.5" y="662.5" width="91" height="20" fill="#fff" stroke="#333" stroke-width="1" stroke-dasharray="1,1" shape-rendering="crispEdges"/>
<text x="330.25" y="670.37" text-anchor="middle" font-size="8.7" fill="#2e2e2e" stroke="#2e2e2e" stroke-width="0.2">упорство на своем</text>
<text x="330.25" y="680.37" text-anchor="middle" font-size="8.7" fill="#2e2e2e" stroke="#2e2e2e" stroke-width="0.2">мнении</text>
<rect x="284.5" y="698.5" width="91" height="15" fill="#fff" stroke="#333" stroke-width="1" stroke-dasharray="1,1" shape-rendering="crispEdges"/>
<text x="330.25" y="709.07" text-anchor="middle" font-size="8.7" fill="#2e2e2e" stroke="#2e2e2e" stroke-width="0.2">многоглаголанье</text>
<rect x="400.5" y="401.5" width="92" height="14" fill="#fff" stroke="#333" stroke-width="1" stroke-dasharray="1,1" shape-rendering="crispEdges"/>
<text x="446.65000000000003" y="411.52" text-anchor="middle" font-size="8.7" fill="#2e2e2e" stroke="#2e2e2e" stroke-width="0.2">умоисступление</text>
<rect x="400.5" y="428.5" width="92" height="23" fill="#fff" stroke="#333" stroke-width="1" stroke-dasharray="1,1" shape-rendering="crispEdges"/>
<text x="446.65000000000003" y="437.52" text-anchor="middle" font-size="8.7" fill="#2e2e2e" stroke="#2e2e2e" stroke-width="0.2">хула,</text>
<text x="446.65000000000003" y="447.52" text-anchor="middle" font-size="8.7" fill="#2e2e2e" stroke="#2e2e2e" stroke-width="0.2">хульные помыслы</text>
<rect x="400.5" y="522.5" width="92" height="15" fill="#fff" stroke="#333" stroke-width="1" stroke-dasharray="1,1" shape-rendering="crispEdges"/>
<text x="446.65000000000003" y="533.12" text-anchor="middle" font-size="8.7" fill="#2e2e2e" stroke="#2e2e2e" stroke-width="0.2">оскудение любви</text>
<rect x="385.5" y="725.5" width="91" height="14" fill="#fff" stroke="#333" stroke-width="1" stroke-dasharray="1,1" shape-rendering="crispEdges"/>
<text x="431.2" y="735.07" text-anchor="middle" font-size="8.7" fill="#2e2e2e" stroke="#2e2e2e" stroke-width="0.2">зависть</text>
<rect x="364.5" y="764.5" width="91" height="15" fill="#fff" stroke="#333" stroke-width="1" stroke-dasharray="1,1" shape-rendering="crispEdges"/>
<text x="409.65" y="774.97" text-anchor="middle" font-size="8.7" fill="#2e2e2e" stroke="#2e2e2e" stroke-width="0.2">страх, боязливость</text>
<rect x="537.5" y="756.5" width="92" height="14" fill="#fff" stroke="#333" stroke-width="1" stroke-dasharray="1,1" shape-rendering="crispEdges"/>
<text x="583.6999999999999" y="766.37" text-anchor="middle" font-size="8.7" fill="#2e2e2e" stroke="#2e2e2e" stroke-width="0.2">осуждение</text>
<rect x="537.5" y="806.5" width="92" height="15" fill="#fff" stroke="#333" stroke-width="1" stroke-dasharray="1,1" shape-rendering="crispEdges"/>
<text x="583.5" y="816.62" text-anchor="middle" font-size="8.7" fill="#2e2e2e" stroke="#2e2e2e" stroke-width="0.2">памятозлобие</text>
<rect x="537.5" y="835.5" width="92" height="14" fill="#fff" stroke="#333" stroke-width="1" stroke-dasharray="1,1" shape-rendering="crispEdges"/>
<text x="583.5" y="845.67" text-anchor="middle" font-size="8.7" fill="#2e2e2e" stroke="#2e2e2e" stroke-width="0.2">клевета</text>
<rect x="537.5" y="861.5" width="92" height="14" fill="#fff" stroke="#333" stroke-width="1" stroke-dasharray="1,1" shape-rendering="crispEdges"/>
<text x="583.5" y="871.07" text-anchor="middle" font-size="8.7" fill="#2e2e2e" stroke="#2e2e2e" stroke-width="0.2">ненависть</text>
<rect x="537.5" y="882.5" width="92" height="14" fill="#fff" stroke="#333" stroke-width="1" stroke-dasharray="1,1" shape-rendering="crispEdges"/>
<text x="583.5" y="892.62" text-anchor="middle" font-size="8.7" fill="#2e2e2e" stroke="#2e2e2e" stroke-width="0.2">вражда</text>
<rect x="537.5" y="904.5" width="92" height="14" fill="#fff" stroke="#333" stroke-width="1" stroke-dasharray="1,1" shape-rendering="crispEdges"/>
<text x="583.5" y="914.27" text-anchor="middle" font-size="8.7" fill="#2e2e2e" stroke="#2e2e2e" stroke-width="0.2">оправдание</text>
<rect x="614.5" y="399.5" width="92" height="16" fill="#fff" stroke="#333" stroke-width="1" stroke-dasharray="1,1" shape-rendering="crispEdges"/>
<text x="660.4499999999999" y="410.27" text-anchor="middle" font-size="8.7" fill="#2e2e2e" stroke="#2e2e2e" stroke-width="0.2">самолюбие</text>
<rect x="614.5" y="427.5" width="92" height="31" fill="#fff" stroke="#333" stroke-width="1" stroke-dasharray="1,1" shape-rendering="crispEdges"/>
<text x="660.4499999999999" y="440.77" text-anchor="middle" font-size="8.7" fill="#2e2e2e" stroke="#2e2e2e" stroke-width="0.2">смехотворство, смех</text>
<text x="660.4499999999999" y="450.77" text-anchor="middle" font-size="8.7" fill="#2e2e2e" stroke="#2e2e2e" stroke-width="0.2">безвременный</text>
<rect x="614.5" y="470.5" width="92" height="14" fill="#fff" stroke="#333" stroke-width="1" stroke-dasharray="1,1" shape-rendering="crispEdges"/>
<text x="660.4499999999999" y="480.52" text-anchor="middle" font-size="8.7" fill="#2e2e2e" stroke="#2e2e2e" stroke-width="0.2">непослушание</text>
<rect x="614.5" y="503.5" width="92" height="16" fill="#fff" stroke="#333" stroke-width="1" stroke-dasharray="1,1" shape-rendering="crispEdges"/>
<text x="660.4499999999999" y="514.37" text-anchor="middle" font-size="8.7" fill="#2e2e2e" stroke="#2e2e2e" stroke-width="0.2">человекоугодие</text>
<rect x="614.5" y="527.5" width="92" height="20" fill="#fff" stroke="#333" stroke-width="1" stroke-dasharray="1,1" shape-rendering="crispEdges"/>
<text x="660.4499999999999" y="535.07" text-anchor="middle" font-size="8.7" fill="#2e2e2e" stroke="#2e2e2e" stroke-width="0.2">кощунство</text>
<text x="660.4499999999999" y="545.07" text-anchor="middle" font-size="8.7" fill="#2e2e2e" stroke="#2e2e2e" stroke-width="0.2">(острословие)</text>
<rect x="614.5" y="565.5" width="92" height="15" fill="#fff" stroke="#333" stroke-width="1" stroke-dasharray="1,1" shape-rendering="crispEdges"/>
<text x="660.4499999999999" y="575.87" text-anchor="middle" font-size="8.7" fill="#2e2e2e" stroke="#2e2e2e" stroke-width="0.2">леность</text>
<rect x="614.5" y="601.5" width="92" height="15" fill="#fff" stroke="#333" stroke-width="1" stroke-dasharray="1,1" shape-rendering="crispEdges"/>
<text x="660.4499999999999" y="612.07" text-anchor="middle" font-size="8.7" fill="#2e2e2e" stroke="#2e2e2e" stroke-width="0.2">многоспание</text>
<rect x="625.5" y="640.5" width="91" height="15" fill="#fff" stroke="#333" stroke-width="1" stroke-dasharray="1,1" shape-rendering="crispEdges"/>
<text x="671.15" y="650.62" text-anchor="middle" font-size="8.7" fill="#2e2e2e" stroke="#2e2e2e" stroke-width="0.2">ожесточение души</text>
<rect x="614.5" y="667.5" width="91" height="25" fill="#fff" stroke="#333" stroke-width="1" stroke-dasharray="1,1" shape-rendering="crispEdges"/>
<text x="660.3499999999999" y="677.67" text-anchor="middle" font-size="8.7" fill="#2e2e2e" stroke="#2e2e2e" stroke-width="0.2">невоздержное житие</text>
<text x="660.3499999999999" y="687.67" text-anchor="middle" font-size="8.7" fill="#2e2e2e" stroke="#2e2e2e" stroke-width="0.2">и худые привычки</text>
<rect x="736.5" y="427.5" width="92" height="23" fill="#fff" stroke="#333" stroke-width="1" stroke-dasharray="1,1" shape-rendering="crispEdges"/>
<text x="782.65" y="436.67" text-anchor="middle" font-size="8.7" fill="#2e2e2e" stroke="#2e2e2e" stroke-width="0.2">смущение ума,</text>
<text x="782.65" y="446.67" text-anchor="middle" font-size="8.7" fill="#2e2e2e" stroke="#2e2e2e" stroke-width="0.2">неразумие</text>
<rect x="736.5" y="470.5" width="92" height="14" fill="#fff" stroke="#333" stroke-width="1" stroke-dasharray="1,1" shape-rendering="crispEdges"/>
<text x="782.65" y="480.52" text-anchor="middle" font-size="8.7" fill="#2e2e2e" stroke="#2e2e2e" stroke-width="0.2">жестоковыйность</text>
<rect x="736.5" y="500.5" width="92" height="15" fill="#fff" stroke="#333" stroke-width="1" stroke-dasharray="1,1" shape-rendering="crispEdges"/>
<text x="782.65" y="510.62" text-anchor="middle" font-size="8.7" fill="#2e2e2e" stroke="#2e2e2e" stroke-width="0.2">пленение ума</text>
<rect x="736.5" y="528.5" width="92" height="18" fill="#fff" stroke="#333" stroke-width="1" stroke-dasharray="1,1" shape-rendering="crispEdges"/>
<text x="782.65" y="540.17" text-anchor="middle" font-size="8.7" fill="#2e2e2e" stroke="#2e2e2e" stroke-width="0.2">хвастовство</text>
<rect x="736.5" y="561.5" width="92" height="15" fill="#fff" stroke="#333" stroke-width="1" stroke-dasharray="1,1" shape-rendering="crispEdges"/>
<text x="782.65" y="571.67" text-anchor="middle" font-size="8.7" fill="#2e2e2e" stroke="#2e2e2e" stroke-width="0.2">высокомерие</text>
<rect x="736.5" y="594.5" width="92" height="14" fill="#fff" stroke="#333" stroke-width="1" stroke-dasharray="1,1" shape-rendering="crispEdges"/>
<text x="782.65" y="604.52" text-anchor="middle" font-size="8.7" fill="#2e2e2e" stroke="#2e2e2e" stroke-width="0.2">прекословие</text>
<rect x="736.5" y="631.5" width="92" height="14" fill="#fff" stroke="#333" stroke-width="1" stroke-dasharray="1,1" shape-rendering="crispEdges"/>
<text x="782.65" y="641.47" text-anchor="middle" font-size="8.7" fill="#2e2e2e" stroke="#2e2e2e" stroke-width="0.2">міролюбие</text>
<rect x="736.5" y="663.5" width="92" height="15" fill="#fff" stroke="#333" stroke-width="1" stroke-dasharray="1,1" shape-rendering="crispEdges"/>
<text x="782.65" y="673.67" text-anchor="middle" font-size="8.7" fill="#2e2e2e" stroke="#2e2e2e" stroke-width="0.2">дерзость</text>
<rect x="865.5" y="439.5" width="91" height="22" fill="#fff" stroke="#333" stroke-width="1" stroke-dasharray="1,1" shape-rendering="crispEdges"/>
<text x="911.2" y="448.12" text-anchor="middle" font-size="8.7" fill="#2e2e2e" stroke="#2e2e2e" stroke-width="0.2">словооправдание и</text>
<text x="911.2" y="458.12" text-anchor="middle" font-size="8.7" fill="#2e2e2e" stroke="#2e2e2e" stroke-width="0.2">прекословие</text>
<rect x="865.5" y="473.5" width="91" height="24" fill="#fff" stroke="#333" stroke-width="1" stroke-dasharray="1,1" shape-rendering="crispEdges"/>
<text x="911.2" y="482.92" text-anchor="middle" font-size="8.7" fill="#2e2e2e" stroke="#2e2e2e" stroke-width="0.2">немилосердие,</text>
<text x="911.2" y="492.92" text-anchor="middle" font-size="8.7" fill="#2e2e2e" stroke="#2e2e2e" stroke-width="0.2">убийство</text>
<rect x="859.5" y="735.5" width="91" height="14" fill="#fff" stroke="#333" stroke-width="1" stroke-dasharray="1,1" shape-rendering="crispEdges"/>
<text x="905.4" y="745.57" text-anchor="middle" font-size="8.7" fill="#2e2e2e" stroke="#2e2e2e" stroke-width="0.2">многоглаголанье</text>
<rect x="502.5" y="1124.5" width="92" height="15" fill="#fff" stroke="#333" stroke-width="1" stroke-dasharray="1,1" shape-rendering="crispEdges"/>
<text x="548.75" y="1135.37" text-anchor="middle" font-size="8.7" fill="#2e2e2e" stroke="#2e2e2e" stroke-width="0.2">отчаяние</text>
<ellipse cx="62" cy="161.5" rx="54" ry="31.5" fill="#fff" stroke="#3c3c9c" stroke-width="1.8"/>
<text x="62" y="154.34" text-anchor="middle" font-size="8.6" fill="#383882" stroke="#383882" stroke-width="0.2">Прилежная молитва с</text>
<text x="62" y="164.34" text-anchor="middle" font-size="8.6" fill="#383882" stroke="#383882" stroke-width="0.2">твердым упованием</text>
<text x="62" y="174.34" text-anchor="middle" font-size="8.6" fill="#383882" stroke="#383882" stroke-width="0.2">получить будущие блага</text>
<ellipse cx="170" cy="164.5" rx="41" ry="21.5" fill="#fff" stroke="#3c3c9c" stroke-width="1.8"/>
<text x="170" y="157.34" text-anchor="middle" font-size="8.6" fill="#383882" stroke="#383882" stroke-width="0.2">Памятование о</text>
<text x="170" y="167.34" text-anchor="middle" font-size="8.6" fill="#383882" stroke="#383882" stroke-width="0.2">грехах, сокрушение</text>
<text x="170" y="177.34" text-anchor="middle" font-size="8.6" fill="#383882" stroke="#383882" stroke-width="0.2">сердца</text>
<ellipse cx="257.5" cy="163.5" rx="39.5" ry="25.5" fill="#fff" stroke="#3c3c9c" stroke-width="1.8"/>
<text x="257.5" y="156.34" text-anchor="middle" font-size="8.6" fill="#383882" stroke="#383882" stroke-width="0.2">Почитать себя</text>
<text x="257.5" y="166.34" text-anchor="middle" font-size="8.6" fill="#383882" stroke="#383882" stroke-width="0.2">всегдашним перед</text>
<text x="257.5" y="176.34" text-anchor="middle" font-size="8.6" fill="#383882" stroke="#383882" stroke-width="0.2">Богом должником</text>
<ellipse cx="347" cy="161.5" rx="38" ry="22.5" fill="#fff" stroke="#3c3c9c" stroke-width="1.8"/>
<text x="347" y="159.34" text-anchor="middle" font-size="8.6" fill="#383882" stroke="#383882" stroke-width="0.2">Укорять себя</text>
<text x="347" y="169.34" text-anchor="middle" font-size="8.6" fill="#383882" stroke="#383882" stroke-width="0.2">перед Богом</text>
<ellipse cx="482" cy="160" rx="46" ry="29" fill="#fff" stroke="#3c3c9c" stroke-width="1.8"/>
<text x="482" y="147.84" text-anchor="middle" font-size="8.6" fill="#383882" stroke="#383882" stroke-width="0.2">Телесные</text>
<text x="482" y="157.84" text-anchor="middle" font-size="8.6" fill="#383882" stroke="#383882" stroke-width="0.2">труды, пост, жажда,</text>
<text x="482" y="167.84" text-anchor="middle" font-size="8.6" fill="#383882" stroke="#383882" stroke-width="0.2">воздержание и</text>
<text x="482" y="177.84" text-anchor="middle" font-size="8.6" fill="#383882" stroke="#383882" stroke-width="0.2">бдение</text>
<ellipse cx="577.5" cy="160" rx="37.5" ry="22" fill="#fff" stroke="#3c3c9c" stroke-width="1.8"/>
<text x="577.5" y="157.84" text-anchor="middle" font-size="8.6" fill="#383882" stroke="#383882" stroke-width="0.2">Познание своей</text>
<text x="577.5" y="167.84" text-anchor="middle" font-size="8.6" fill="#383882" stroke="#383882" stroke-width="0.2">немощи</text>
<ellipse cx="655" cy="162" rx="31" ry="23" fill="#fff" stroke="#3c3c9c" stroke-width="1.8"/>
<text x="655" y="154.84" text-anchor="middle" font-size="8.6" fill="#383882" stroke="#383882" stroke-width="0.2">Пост,</text>
<text x="655" y="164.84" text-anchor="middle" font-size="8.6" fill="#383882" stroke="#383882" stroke-width="0.2">воздержание</text>
<text x="655" y="174.84" text-anchor="middle" font-size="8.6" fill="#383882" stroke="#383882" stroke-width="0.2">(мужество)</text>
<ellipse cx="721.5" cy="182" rx="31.5" ry="34" fill="#fff" stroke="#3c3c9c" stroke-width="1.8"/>
<text x="721.5" y="169.84" text-anchor="middle" font-size="8.6" fill="#383882" stroke="#383882" stroke-width="0.2">Память огня</text>
<text x="721.5" y="179.84" text-anchor="middle" font-size="8.6" fill="#383882" stroke="#383882" stroke-width="0.2">геенского,</text>
<text x="721.5" y="189.84" text-anchor="middle" font-size="8.6" fill="#383882" stroke="#383882" stroke-width="0.2">память</text>
<text x="721.5" y="199.84" text-anchor="middle" font-size="8.6" fill="#383882" stroke="#383882" stroke-width="0.2">согрешений</text>
<ellipse cx="884" cy="175" rx="44" ry="27" fill="#fff" stroke="#3c3c9c" stroke-width="1.8"/>
<text x="884" y="162.84" text-anchor="middle" font-size="8.6" fill="#383882" stroke="#383882" stroke-width="0.2">Размышление о</text>
<text x="884" y="172.84" text-anchor="middle" font-size="8.6" fill="#383882" stroke="#383882" stroke-width="0.2">страшном суде,</text>
<text x="884" y="182.84" text-anchor="middle" font-size="8.6" fill="#383882" stroke="#383882" stroke-width="0.2">непрестанная</text>
<text x="884" y="192.84" text-anchor="middle" font-size="8.6" fill="#383882" stroke="#383882" stroke-width="0.2">молитва</text>
<ellipse cx="116.4" cy="221.7" rx="37.5" ry="22.5" fill="#fff" stroke="#3c3c9c" stroke-width="1.8"/>
<text x="116.4" y="219.54" text-anchor="middle" font-size="8.6" fill="#383882" stroke="#383882" stroke-width="0.2">Размышление о</text>
<text x="116.4" y="229.54" text-anchor="middle" font-size="8.6" fill="#383882" stroke="#383882" stroke-width="0.2">смерти</text>
<ellipse cx="200.5" cy="226.5" rx="37.5" ry="22.5" fill="#fff" stroke="#3c3c9c" stroke-width="1.8"/>
<text x="200.5" y="224.34" text-anchor="middle" font-size="8.6" fill="#383882" stroke="#383882" stroke-width="0.2">Оплакивание</text>
<text x="200.5" y="234.34" text-anchor="middle" font-size="8.6" fill="#383882" stroke="#383882" stroke-width="0.2">своих грехов</text>
<ellipse cx="191" cy="292" rx="43" ry="27" fill="#fff" stroke="#3c3c9c" stroke-width="1.8"/>
<text x="191" y="279.84" text-anchor="middle" font-size="8.6" fill="#383882" stroke="#383882" stroke-width="0.2">Истинное</text>
<text x="191" y="289.84" text-anchor="middle" font-size="8.6" fill="#383882" stroke="#383882" stroke-width="0.2">послушание,</text>
<text x="191" y="299.84" text-anchor="middle" font-size="8.6" fill="#383882" stroke="#383882" stroke-width="0.2">рукоделие,</text>
<text x="191" y="309.84" text-anchor="middle" font-size="8.6" fill="#383882" stroke="#383882" stroke-width="0.2">псалмопение</text>
<ellipse cx="379" cy="233.5" rx="47" ry="25.5" fill="#fff" stroke="#3c3c9c" stroke-width="1.8"/>
<text x="379" y="226.34" text-anchor="middle" font-size="8.6" fill="#383882" stroke="#383882" stroke-width="0.2">Воспоминание о</text>
<text x="379" y="236.34" text-anchor="middle" font-size="8.6" fill="#383882" stroke="#383882" stroke-width="0.2">смерти, воздержание,</text>
<text x="379" y="246.34" text-anchor="middle" font-size="8.6" fill="#383882" stroke="#383882" stroke-width="0.2">молитва</text>
<ellipse cx="482" cy="226" rx="47.5" ry="19" fill="#fff" stroke="#3c3c9c" stroke-width="1.8"/>
<text x="482" y="218.84" text-anchor="middle" font-size="8.6" fill="#383882" stroke="#383882" stroke-width="0.2">Вообразить</text>
<text x="482" y="228.84" text-anchor="middle" font-size="8.6" fill="#383882" stroke="#383882" stroke-width="0.2">предстояние наше</text>
<text x="482" y="238.84" text-anchor="middle" font-size="8.6" fill="#383882" stroke="#383882" stroke-width="0.2">Богу</text>
<ellipse cx="596" cy="230" rx="37.5" ry="23" fill="#fff" stroke="#3c3c9c" stroke-width="1.8"/>
<text x="596" y="222.84" text-anchor="middle" font-size="8.6" fill="#383882" stroke="#383882" stroke-width="0.2">Память смерти,</text>
<text x="596" y="232.84" text-anchor="middle" font-size="8.6" fill="#383882" stroke="#383882" stroke-width="0.2">молитва</text>
<text x="596" y="242.84" text-anchor="middle" font-size="8.6" fill="#383882" stroke="#383882" stroke-width="0.2">Иисусова</text>
<ellipse cx="721.6" cy="244.5" rx="31.6" ry="15" fill="#fff" stroke="#3c3c9c" stroke-width="1.8"/>
<text x="721.6" y="242.34" text-anchor="middle" font-size="8.6" fill="#383882" stroke="#383882" stroke-width="0.2">Память</text>
<text x="721.6" y="252.34" text-anchor="middle" font-size="8.6" fill="#383882" stroke="#383882" stroke-width="0.2">смертная</text>
<ellipse cx="801" cy="215.7" rx="31.6" ry="15.3" fill="#fff" stroke="#3c3c9c" stroke-width="1.8"/>
<text x="801" y="213.54" text-anchor="middle" font-size="8.6" fill="#383882" stroke="#383882" stroke-width="0.2">Безгневие и</text>
<text x="801" y="223.54" text-anchor="middle" font-size="8.6" fill="#383882" stroke="#383882" stroke-width="0.2">кротость</text>
<ellipse cx="864.7" cy="232" rx="24.7" ry="16" fill="#fff" stroke="#3c3c9c" stroke-width="1.8"/>
<text x="864.7" y="229.84" text-anchor="middle" font-size="8.6" fill="#383882" stroke="#383882" stroke-width="0.2">Страх</text>
<text x="864.7" y="239.84" text-anchor="middle" font-size="8.6" fill="#383882" stroke="#383882" stroke-width="0.2">Божий</text>
<ellipse cx="368" cy="317" rx="37" ry="21" fill="#fff" stroke="#3c3c9c" stroke-width="1.8"/>
<text x="368" y="309.84" text-anchor="middle" font-size="8.6" fill="#383882" stroke="#383882" stroke-width="0.2">Смирение,</text>
<text x="368" y="319.84" text-anchor="middle" font-size="8.6" fill="#383882" stroke="#383882" stroke-width="0.2">молчание и</text>
<text x="368" y="329.84" text-anchor="middle" font-size="8.6" fill="#383882" stroke="#383882" stroke-width="0.2">безмолвие</text>
<ellipse cx="1003.5" cy="359" rx="41.5" ry="30" fill="#fff" stroke="#3c3c9c" stroke-width="1.8"/>
<text x="1003.5" y="351.84" text-anchor="middle" font-size="8.6" fill="#383882" stroke="#383882" stroke-width="0.2">Непоколебимая</text>
<text x="1003.5" y="361.84" text-anchor="middle" font-size="8.6" fill="#383882" stroke="#383882" stroke-width="0.2">вера, надежда и</text>
<text x="1003.5" y="371.84" text-anchor="middle" font-size="8.6" fill="#383882" stroke="#383882" stroke-width="0.2">уклонение от міра</text>
<ellipse cx="555" cy="430" rx="37.5" ry="14" fill="#fff" stroke="#3c3c9c" stroke-width="1.8"/>
<text x="555" y="432.84" text-anchor="middle" font-size="8.6" fill="#383882" stroke="#383882" stroke-width="0.2">Смиренномудрие</text>
<ellipse cx="781.7" cy="392.3" rx="37" ry="14" fill="#fff" stroke="#3c3c9c" stroke-width="1.8"/>
<text x="781.7" y="395.14" text-anchor="middle" font-size="8.6" fill="#383882" stroke="#383882" stroke-width="0.2">Смиренномудрие</text>
<ellipse cx="62.5" cy="530" rx="21" ry="21" fill="#fff" stroke="#3c3c9c" stroke-width="1.8"/>
<text x="62.5" y="527.84" text-anchor="middle" font-size="8.6" fill="#383882" stroke="#383882" stroke-width="0.2">Бдение,</text>
<text x="62.5" y="537.84" text-anchor="middle" font-size="8.6" fill="#383882" stroke="#383882" stroke-width="0.2">пост</text>
<ellipse cx="221.8" cy="519.7" rx="25.5" ry="25.5" fill="#fff" stroke="#3c3c9c" stroke-width="1.8"/>
<text x="221.8" y="517.54" text-anchor="middle" font-size="8.6" fill="#383882" stroke="#383882" stroke-width="0.2">Пост, страх</text>
<text x="221.8" y="527.54" text-anchor="middle" font-size="8.6" fill="#383882" stroke="#383882" stroke-width="0.2">Божий</text>
<ellipse cx="910.5" cy="541.5" rx="38.5" ry="26.5" fill="#fff" stroke="#3c3c9c" stroke-width="1.8"/>
<text x="910.5" y="539.34" text-anchor="middle" font-size="8.6" fill="#383882" stroke="#383882" stroke-width="0.2">Память смертная,</text>
<text x="910.5" y="549.34" text-anchor="middle" font-size="8.6" fill="#383882" stroke="#383882" stroke-width="0.2">милосердие</text>
<ellipse cx="912.5" cy="598" rx="42.5" ry="22" fill="#fff" stroke="#3c3c9c" stroke-width="1.8"/>
<text x="912.5" y="595.84" text-anchor="middle" font-size="8.6" fill="#383882" stroke="#383882" stroke-width="0.2">Нестяжание,</text>
<text x="912.5" y="605.84" text-anchor="middle" font-size="8.6" fill="#383882" stroke="#383882" stroke-width="0.2">беспристрастие</text>
<ellipse cx="446.5" cy="620.5" rx="40.5" ry="25.5" fill="#fff" stroke="#3c3c9c" stroke-width="1.8"/>
<text x="446.5" y="613.34" text-anchor="middle" font-size="8.6" fill="#383882" stroke="#383882" stroke-width="0.2">Познание своих</text>
<text x="446.5" y="623.34" text-anchor="middle" font-size="8.6" fill="#383882" stroke="#383882" stroke-width="0.2">согрешений,</text>
<text x="446.5" y="633.34" text-anchor="middle" font-size="8.6" fill="#383882" stroke="#383882" stroke-width="0.2">воздержание</text>
<ellipse cx="557.8" cy="672.4" rx="40.2" ry="25.4" fill="#fff" stroke="#3c3c9c" stroke-width="1.8"/>
<text x="557.8" y="665.24" text-anchor="middle" font-size="8.6" fill="#383882" stroke="#383882" stroke-width="0.2">Памятование и</text>
<text x="557.8" y="675.24" text-anchor="middle" font-size="8.6" fill="#383882" stroke="#383882" stroke-width="0.2">попечение о своих</text>
<text x="557.8" y="685.24" text-anchor="middle" font-size="8.6" fill="#383882" stroke="#383882" stroke-width="0.2">согрешениях</text>
<ellipse cx="676.5" cy="742.7" rx="40.5" ry="31.299999999999997" fill="#fff" stroke="#3c3c9c" stroke-width="1.8"/>
<text x="676.5" y="730.54" text-anchor="middle" font-size="8.6" fill="#383882" stroke="#383882" stroke-width="0.2">Воспоминание</text>
<text x="676.5" y="740.54" text-anchor="middle" font-size="8.6" fill="#383882" stroke="#383882" stroke-width="0.2">страданий</text>
<text x="676.5" y="750.54" text-anchor="middle" font-size="8.6" fill="#383882" stroke="#383882" stroke-width="0.2">Христовых и Его</text>
<text x="676.5" y="760.54" text-anchor="middle" font-size="8.6" fill="#383882" stroke="#383882" stroke-width="0.2">незлобия</text>
<ellipse cx="905.4" cy="660.5" rx="41" ry="25.5" fill="#fff" stroke="#3c3c9c" stroke-width="1.8"/>
<text x="905.4" y="653.34" text-anchor="middle" font-size="8.6" fill="#383882" stroke="#383882" stroke-width="0.2">Попечение об</text>
<text x="905.4" y="663.34" text-anchor="middle" font-size="8.6" fill="#383882" stroke="#383882" stroke-width="0.2">исходе от жизни,</text>
<text x="905.4" y="673.34" text-anchor="middle" font-size="8.6" fill="#383882" stroke="#383882" stroke-width="0.2">пост</text>
<ellipse cx="308.4" cy="837" rx="36" ry="22" fill="#fff" stroke="#3c3c9c" stroke-width="1.8"/>
<text x="308.4" y="839.84" text-anchor="middle" font-size="8.6" fill="#383882" stroke="#383882" stroke-width="0.2">Плач о грехах</text>
<ellipse cx="405" cy="875" rx="57" ry="32.5" fill="#fff" stroke="#3c3c9c" stroke-width="1.8"/>
<text x="405" y="862.84" text-anchor="middle" font-size="8.6" fill="#383882" stroke="#383882" stroke-width="0.2">Хождение</text>
<text x="405" y="872.84" text-anchor="middle" font-size="8.6" fill="#383882" stroke="#383882" stroke-width="0.2">с молитвой в полночь в</text>
<text x="405" y="882.84" text-anchor="middle" font-size="8.6" fill="#383882" stroke="#383882" stroke-width="0.2">места в которые боишься</text>
<text x="405" y="892.84" text-anchor="middle" font-size="8.6" fill="#383882" stroke="#383882" stroke-width="0.2">ходить</text>
<ellipse cx="88" cy="904" rx="25" ry="16" fill="#fff" stroke="#3c3c9c" stroke-width="1.8"/>
<text x="88" y="901.84" text-anchor="middle" font-size="8.6" fill="#383882" stroke="#383882" stroke-width="0.2">Страх</text>
<text x="88" y="911.84" text-anchor="middle" font-size="8.6" fill="#383882" stroke="#383882" stroke-width="0.2">Божий</text>
<ellipse cx="53" cy="954" rx="30.5" ry="19" fill="#fff" stroke="#3c3c9c" stroke-width="1.8"/>
<text x="53" y="946.84" text-anchor="middle" font-size="8.6" fill="#383882" stroke="#383882" stroke-width="0.2">Память о</text>
<text x="53" y="956.84" text-anchor="middle" font-size="8.6" fill="#383882" stroke="#383882" stroke-width="0.2">мертвых и</text>
<text x="53" y="966.84" text-anchor="middle" font-size="8.6" fill="#383882" stroke="#383882" stroke-width="0.2">пост</text>
<ellipse cx="133" cy="977" rx="43.2" ry="27.3" fill="#fff" stroke="#3c3c9c" stroke-width="1.8"/>
<text x="133" y="964.84" text-anchor="middle" font-size="8.6" fill="#383882" stroke="#383882" stroke-width="0.2">Размышление о</text>
<text x="133" y="974.84" text-anchor="middle" font-size="8.6" fill="#383882" stroke="#383882" stroke-width="0.2">страшном суде,</text>
<text x="133" y="984.84" text-anchor="middle" font-size="8.6" fill="#383882" stroke="#383882" stroke-width="0.2">непрестанная</text>
<text x="133" y="994.84" text-anchor="middle" font-size="8.6" fill="#383882" stroke="#383882" stroke-width="0.2">молитва</text>
<ellipse cx="260" cy="1018.6" rx="48" ry="29.7" fill="#fff" stroke="#3c3c9c" stroke-width="1.8"/>
<text x="260" y="1011.44" text-anchor="middle" font-size="8.6" fill="#383882" stroke="#383882" stroke-width="0.2">Вникни в причину</text>
<text x="260" y="1021.44" text-anchor="middle" font-size="8.6" fill="#383882" stroke="#383882" stroke-width="0.2">страсти и</text>
<text x="260" y="1031.44" text-anchor="middle" font-size="8.6" fill="#383882" stroke="#383882" stroke-width="0.2">противоборствуй ей</text>
<ellipse cx="67.5" cy="1224" rx="26" ry="26" fill="#fff" stroke="#3c3c9c" stroke-width="1.8"/>
<text x="67.5" y="1221.99" text-anchor="middle" font-size="8.6" fill="#383882" stroke="#383882" stroke-width="0.2">Пост, страх</text>
<text x="67.5" y="1231.69" text-anchor="middle" font-size="8.6" fill="#383882" stroke="#383882" stroke-width="0.2">божий</text>
<text transform="translate(519.5,0) scale(1.13,1)" x="0" y="1093.1" text-anchor="middle" font-size="24" font-weight="bold" textLength="163.2" lengthAdjust="spacing" stroke="#000" stroke-width="1.4" stroke-linejoin="round" fill="#000">Примечания</text>
<text x="302" y="1141.4" text-anchor="middle" font-size="15.1" fill="#1a1a1a">Греховная страсть-порок, вкоренившийся в</text>
<text x="302" y="1158.7" text-anchor="middle" font-size="15.1" fill="#1a1a1a">душу и через навык сделавшийся как бы</text>
<text x="302" y="1176.0" text-anchor="middle" font-size="15.1" fill="#1a1a1a">природным её свойством</text>
<text x="818" y="1149.2" text-anchor="middle" font-size="15.1" fill="#1a1a1a">Разнообразные греховные действия, проистекающие из</text>
<text x="818" y="1167.6000000000001" text-anchor="middle" font-size="15.1" fill="#1a1a1a">страстей или способствующие их развитию.</text>
<text x="114" y="1228.6" font-size="15.1" fill="#1a1a1a">Средства борьбы с греховными страстями и искоренения их.</text>
</svg>
</body></html>
